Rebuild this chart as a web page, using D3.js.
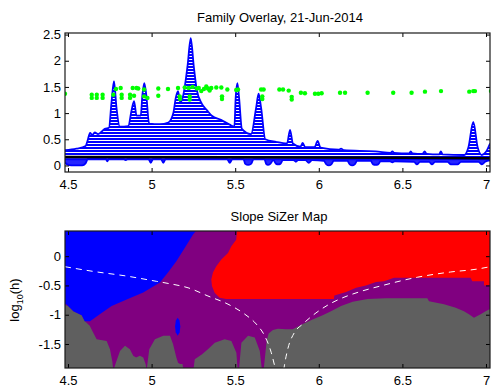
<!DOCTYPE html>
<html>
<head>
<meta charset="utf-8">
<script src="https://cdn.jsdelivr.net/npm/d3@7"></script>
<style>
    body { margin: 0; background: #fff; }
    svg { display: block; }
</style>
</head>
<body>
<div id="chart"></div>
<script>
const xTicks = [4.5, 5, 5.5, 6, 6.5, 7];
const topYTicks = [0, 0.5, 1, 1.5, 2, 2.5];
const mapYTicks = [-1.5, -1, -0.5, 0];
const xExtent = [4.482, 7.024];
const topYExtent = [-0.125, 2.53];
const mapYExtent = [-1.91, 0.43];

// upper and lower edge of the family of smooths
const familyTop = [
    [4.482,0.29],[4.55,0.32],[4.605,0.37],[4.615,0.45],[4.632,0.62],[4.645,0.58],[4.66,0.63],[4.68,0.6],
    [4.72,0.7],[4.745,0.72],[4.76,1.2],[4.775,1.61],[4.79,1.1],[4.81,0.74],[4.86,0.75],[4.88,1.05],
    [4.895,1.23],[4.91,0.95],[4.935,0.95],[4.945,1.35],[4.956,1.57],[4.968,1.35],[4.985,0.8],
    [5.05,0.79],[5.10,0.82],[5.13,1.0],[5.145,1.3],[5.158,1.42],[5.172,1.2],[5.19,1.35],[5.215,1.9],
    [5.234,2.43],[5.252,1.9],[5.27,1.45],[5.30,1.18],[5.33,1.06],[5.36,0.95],[5.415,0.87],[5.467,0.78],
    [5.495,0.74],[5.503,1.3],[5.513,1.57],[5.523,1.3],[5.54,0.7],[5.595,0.6],[5.625,1.1],[5.64,1.37],
    [5.655,1.1],[5.68,0.5],[5.744,0.45],[5.81,0.42],[5.828,0.68],[5.845,0.42],[5.89,0.36],[5.904,0.43],
    [5.918,0.35],[5.975,0.35],[5.993,0.47],[6.01,0.34],[6.12,0.3],[6.133,0.32],[6.15,0.29],[6.34,0.27],
    [6.43,0.24],[6.44,0.27],[6.45,0.24],[6.54,0.23],[6.55,0.27],[6.56,0.23],[6.62,0.22],[6.633,0.27],
    [6.645,0.22],[6.72,0.21],[6.73,0.27],[6.74,0.21],[6.87,0.2],[6.895,0.35],[6.924,0.83],[6.95,0.35],
    [6.975,0.2],[7.0,0.26],[7.024,0.42]
];
const familyBottom = [
    [4.482,0.06],[4.495,0.02],[4.52,0.0],[4.585,0.0],[4.605,0.04],[4.62,0.13],[4.725,0.13],[4.735,0.08],
    [4.745,0.13],[4.83,0.13],[4.845,0.1],[4.86,0.13],[4.98,0.13],[4.995,0.05],[5.01,0.13],[5.055,0.13],
    [5.07,0.05],[5.085,0.13],[5.45,0.13],[5.467,0.05],[5.485,0.13],[5.55,0.12],[5.56,0.03],[5.577,0.01],
    [5.595,0.03],[5.61,0.12],[5.675,0.12],[5.685,0.03],[5.696,0.01],[5.71,0.03],[5.728,0.1],[5.745,0.03],
    [5.757,0.02],[5.77,0.03],[5.785,0.1],[5.85,0.1],[5.863,0.07],[5.875,0.1],[5.92,0.1],[5.94,0.05],
    [5.96,0.1],[6.03,0.09],[6.045,0.02],[6.06,0.0],[6.075,0.02],[6.09,0.09],[6.17,0.09],[6.185,0.02],
    [6.2,0.0],[6.215,0.02],[6.23,0.09],[6.31,0.09],[6.325,0.02],[6.34,0.01],[6.355,0.02],[6.37,0.08],
    [6.425,0.08],[6.44,0.06],[6.455,0.08],[6.57,0.07],[6.587,0.02],[6.605,0.07],[6.66,0.07],[6.677,0.02],
    [6.695,0.07],[6.77,0.07],[6.79,0.02],[6.83,0.02],[6.85,0.07],[6.955,0.07],[6.976,0.02],[6.995,0.07],
    [7.024,0.1]
];
const widestSmooth = [[4.482,0.16],[5.5,0.155],[6.5,0.145],[7.024,0.14]];

// jittered data points
const dataPoints = [
    [4.482,1.37],[4.642,1.35],[4.642,1.29],[4.672,1.35],[4.672,1.29],[4.707,1.35],[4.707,1.29],
    [4.771,1.35],[4.787,1.46],[4.815,1.48],[4.821,1.35],[4.821,1.29],[4.871,1.35],[4.871,1.29],
    [4.887,1.48],[4.91,1.48],[4.895,1.33],[4.92,1.47],[4.955,1.45],[4.955,1.32],[4.975,1.29],
    [5.04,1.47],[5.04,1.33],[5.098,1.46],[5.158,1.48],[5.168,1.32],[5.17,1.27],[5.198,1.49],
    [5.222,1.48],[5.228,1.32],[5.228,1.26],[5.245,1.5],[5.27,1.47],[5.282,1.48],[5.297,1.42],
    [5.313,1.46],[5.327,1.51],[5.337,1.47],[5.347,1.43],[5.357,1.48],[5.387,1.49],[5.417,1.49],
    [5.421,1.32],[5.421,1.27],[5.453,1.45],[5.506,1.44],[5.517,1.45],[5.655,1.45],[5.67,1.45],
    [5.662,1.32],[5.662,1.27],[5.764,1.45],[5.786,1.45],[5.82,1.43],[5.838,1.31],[5.838,1.26],
    [5.893,1.39],[5.917,1.38],[5.977,1.37],[5.997,1.37],[6.017,1.38],[6.127,1.39],[6.157,1.39],
    [6.292,1.39],[6.445,1.39],[6.555,1.39],[6.635,1.41],[6.731,1.42],[6.9,1.41],[6.924,1.42],
    [6.934,1.42],[7.03,1.42]
];

// SiZer map regions, purple is the background
const grayTop = [
    [4.47,-0.82],[4.50,-0.85],[4.532,-0.94],[4.582,-1.01],[4.601,-1.11],[4.63,-1.19],[4.651,-1.31],
    [4.671,-1.42],[4.731,-1.45],[4.751,-1.59],[4.765,-1.8],[4.771,-1.95],[4.79,-1.79],[4.811,-1.62],
    [4.841,-1.53],[4.87,-1.59],[4.89,-1.70],[4.907,-1.73],[4.93,-1.70],[4.95,-1.73],[4.965,-1.85],
    [4.97,-1.95],[4.986,-1.59],[5.02,-1.42],[5.07,-1.36],[5.11,-1.36],[5.128,-1.5],[5.148,-1.73],
    [5.158,-1.82],[5.17,-1.84],[5.185,-1.84],[5.19,-1.95],[5.25,-1.95],[5.258,-1.76],[5.30,-1.68],
    [5.337,-1.59],[5.378,-1.48],[5.437,-1.42],[5.477,-1.45],[5.507,-1.65],[5.515,-1.95],[5.522,-1.95],
    [5.537,-1.48],[5.577,-1.36],[5.617,-1.39],[5.647,-1.62],[5.66,-1.95],[5.67,-1.95],[5.688,-1.45],
    [5.70,-1.32],[5.726,-1.26],[5.756,-1.24],[5.804,-1.25],[5.844,-1.25],[5.904,-1.16],[5.963,-1.08],
    [6.023,-1.01],[6.073,-0.94],[6.133,-0.85],[6.203,-0.78],[6.292,-0.73],[6.402,-0.72],[6.649,-0.72],
    [6.659,-0.77],[6.749,-0.82],[6.819,-0.88],[6.868,-0.94],[6.898,-0.99],[6.928,-1.05],[6.968,-0.99],
    [6.998,-0.94],[7.04,-0.88],[7.04,-2.0],[4.47,-2.0]
];
const blueRegion = [
    [4.47,0.5],[5.27,0.5],[5.265,0.43],[5.248,0.37],[5.198,0.14],[5.148,-0.085],[5.098,-0.28],
    [5.05,-0.45],[4.95,-0.62],[4.851,-0.74],[4.761,-0.85],[4.69,-0.99],[4.632,-1.11],[4.60,-1.11],
    [4.582,-1.01],[4.532,-0.94],[4.49,-0.82],[4.47,-0.82]
];
const blueBlob = [
    [5.156,-1.05],[5.167,-1.1],[5.172,-1.2],[5.168,-1.3],[5.156,-1.36],[5.144,-1.3],[5.140,-1.2],[5.145,-1.1]
];
const redRegion = [
    [5.513,0.5],[7.04,0.5],[7.04,-0.49],[6.988,-0.50],[6.988,-0.43],[6.918,-0.43],[6.908,-0.37],
    [6.45,-0.37],[6.39,-0.43],[6.342,-0.44],[6.282,-0.50],[6.223,-0.54],[6.163,-0.61],[6.093,-0.67],
    [6.09,-0.73],[5.447,-0.73],[5.407,-0.71],[5.377,-0.625],[5.361,-0.51],[5.357,-0.40],[5.367,-0.28],
    [5.387,-0.17],[5.417,-0.057],[5.457,0.056],[5.477,0.17],[5.506,0.28]
];
const leftWindow = [
    [4.482,-0.18],[4.651,-0.26],[4.851,-0.34],[5.03,-0.43],[5.098,-0.465],[5.218,-0.54],[5.337,-0.68],
    [5.457,-0.82],[5.557,-0.99],[5.626,-1.16],[5.676,-1.36],[5.716,-1.65],[5.736,-1.875],[5.742,-1.95]
];
const rightWindow = [
    [5.79,-1.95],[5.794,-1.875],[5.814,-1.59],[5.853,-1.31],[5.904,-1.16],[5.983,-0.97],[6.063,-0.82],
    [6.143,-0.71],[6.242,-0.61],[6.382,-0.50],[6.589,-0.36],[6.789,-0.27],[6.948,-0.22],[7.024,-0.18]
];

const width = 491, height = 387;
const left = 65, right = 490;
const topPanel = {top: 33, bottom: 172};
const mapPanel = {top: 231, bottom: 368};
const font = '"Liberation Sans", Arial, Helvetica, sans-serif';

const svg = d3.select('#chart')
    .append('svg')
    .attr('width', width)
    .attr('height', height)
    .style('font-family', font);

const defs = svg.append('defs');

defs.append('clipPath').attr('id', 'clipTop')
    .append('rect')
    .attr('x', left).attr('y', topPanel.top)
    .attr('width', right - left).attr('height', topPanel.bottom - topPanel.top);

defs.append('clipPath').attr('id', 'clipMap')
    .append('rect')
    .attr('x', left).attr('y', mapPanel.top)
    .attr('width', right - left).attr('height', mapPanel.bottom - mapPanel.top);

// stacked curves look like horizontal blue lines
const hatch = defs.append('pattern')
    .attr('id', 'hatch')
    .attr('patternUnits', 'userSpaceOnUse')
    .attr('width', 4)
    .attr('height', 3);
hatch.append('rect')
    .attr('width', 4)
    .attr('height', 2)
    .attr('fill', '#0000ff');

const x = d3.scaleLinear().domain(xExtent).range([left, right]);
const yTop = d3.scaleLinear().domain(topYExtent).range([topPanel.bottom, topPanel.top]);
const yMap = d3.scaleLinear().domain(mapYExtent).range([mapPanel.bottom, mapPanel.top]);

function drawFrame(yScale, yTicks, panel) {
    const fmt = d => String(d);
    const g = svg.append('g').attr('class', 'frame');

    g.append('g')
        .attr('transform', 'translate(0,' + panel.bottom + ')')
        .call(d3.axisBottom(x).tickValues(xTicks).tickSizeInner(-4).tickSizeOuter(0).tickPadding(8).tickFormat(fmt));
    g.append('g')
        .attr('transform', 'translate(0,' + panel.top + ')')
        .call(d3.axisTop(x).tickValues(xTicks).tickSizeInner(-4).tickSizeOuter(0).tickFormat(''));
    g.append('g')
        .attr('transform', 'translate(' + left + ',0)')
        .call(d3.axisLeft(yScale).tickValues(yTicks).tickSizeInner(-4).tickSizeOuter(0).tickPadding(4).tickFormat(fmt));
    g.append('g')
        .attr('transform', 'translate(' + right + ',0)')
        .call(d3.axisRight(yScale).tickValues(yTicks).tickSizeInner(-4).tickSizeOuter(0).tickFormat(''));

    g.selectAll('.domain').remove();
    g.selectAll('.tick line').attr('stroke', '#000');
    g.selectAll('.tick text')
        .attr('fill', '#000')
        .style('font-size', '13px')
        .style('font-family', font);

    g.append('rect')
        .attr('x', left).attr('y', panel.top)
        .attr('width', right - left).attr('height', panel.bottom - panel.top)
        .attr('fill', 'none')
        .attr('stroke', '#1a1a1a')
        .attr('stroke-width', 1.2);
}

// ---- Family overlay ----
const famPlot = svg.append('g').attr('clip-path', 'url(#clipTop)');

const upperArea = d3.area()
    .x(d => x(d[0]))
    .y0(yTop(0.1))
    .y1(d => yTop(d[1]))
    .curve(d3.curveMonotoneX);
const lowerArea = d3.area()
    .x(d => x(d[0]))
    .y0(d => yTop(d[1]))
    .y1(yTop(0.16))
    .curve(d3.curveMonotoneX);
const famLine = d3.line()
    .x(d => x(d[0]))
    .y(d => yTop(d[1]))
    .curve(d3.curveMonotoneX);

famPlot.append('path').attr('d', upperArea(familyTop)).attr('fill', 'url(#hatch)');
famPlot.append('path').attr('d', lowerArea(familyBottom)).attr('fill', '#0000ff').attr('fill-opacity', 0.85);

famPlot.append('path')
    .attr('d', famLine(familyTop))
    .attr('fill', 'none')
    .attr('stroke', '#0000ff')
    .attr('stroke-width', 1.8);
famPlot.append('path')
    .attr('d', famLine(familyBottom))
    .attr('fill', 'none')
    .attr('stroke', '#0000ff')
    .attr('stroke-width', 1.8);

famPlot.append('path')
    .attr('d', d3.line().x(d => x(d[0])).y(d => yTop(d[1]))(widestSmooth))
    .attr('fill', 'none')
    .attr('stroke', '#000')
    .attr('stroke-width', 2.5);

famPlot.append('g')
    .selectAll('circle')
    .data(dataPoints)
    .enter()
    .append('circle')
    .attr('cx', d => x(d[0]))
    .attr('cy', d => yTop(d[1]))
    .attr('r', 2.2)
    .attr('fill', '#00ff00');

drawFrame(yTop, topYTicks, topPanel);

svg.append('text')
    .attr('x', 280).attr('y', 22)
    .attr('text-anchor', 'middle')
    .style('font-size', '13px')
    .text('Family Overlay, 21-Jun-2014');

// ---- SiZer map ----
const mapPlot = svg.append('g').attr('clip-path', 'url(#clipMap)');
const region = d3.line().x(d => x(d[0])).y(d => yMap(d[1]));

mapPlot.append('rect')
    .attr('x', left).attr('y', mapPanel.top)
    .attr('width', right - left).attr('height', mapPanel.bottom - mapPanel.top)
    .attr('fill', '#800080');

mapPlot.append('path').attr('d', region(grayTop) + 'Z').attr('fill', '#5f5f5f');
mapPlot.append('path').attr('d', region(blueRegion) + 'Z').attr('fill', '#0000ff');
mapPlot.append('path').attr('d', region(blueBlob) + 'Z').attr('fill', '#0000ff');
mapPlot.append('path').attr('d', region(redRegion) + 'Z').attr('fill', '#ff0000');

const windowLine = d3.line()
    .x(d => x(d[0]))
    .y(d => yMap(d[1]))
    .curve(d3.curveMonotoneX);

[leftWindow, rightWindow].forEach(w => {
    mapPlot.append('path')
        .attr('d', windowLine(w))
        .attr('fill', 'none')
        .attr('stroke', '#fff')
        .attr('stroke-width', 1)
        .attr('stroke-dasharray', '6 5');
});

drawFrame(yMap, mapYTicks, mapPanel);

svg.append('text')
    .attr('x', 279).attr('y', 221)
    .attr('text-anchor', 'middle')
    .style('font-size', '13px')
    .text('Slope SiZer Map');

const ylab = svg.append('text')
    .attr('transform', 'translate(19,300) rotate(-90)')
    .attr('text-anchor', 'middle')
    .style('font-size', '13px');
ylab.append('tspan').text('log');
ylab.append('tspan').attr('dy', 4).style('font-size', '9px').text('10');
ylab.append('tspan').attr('dy', -4).text('(h)');
</script>
</body>
</html>
